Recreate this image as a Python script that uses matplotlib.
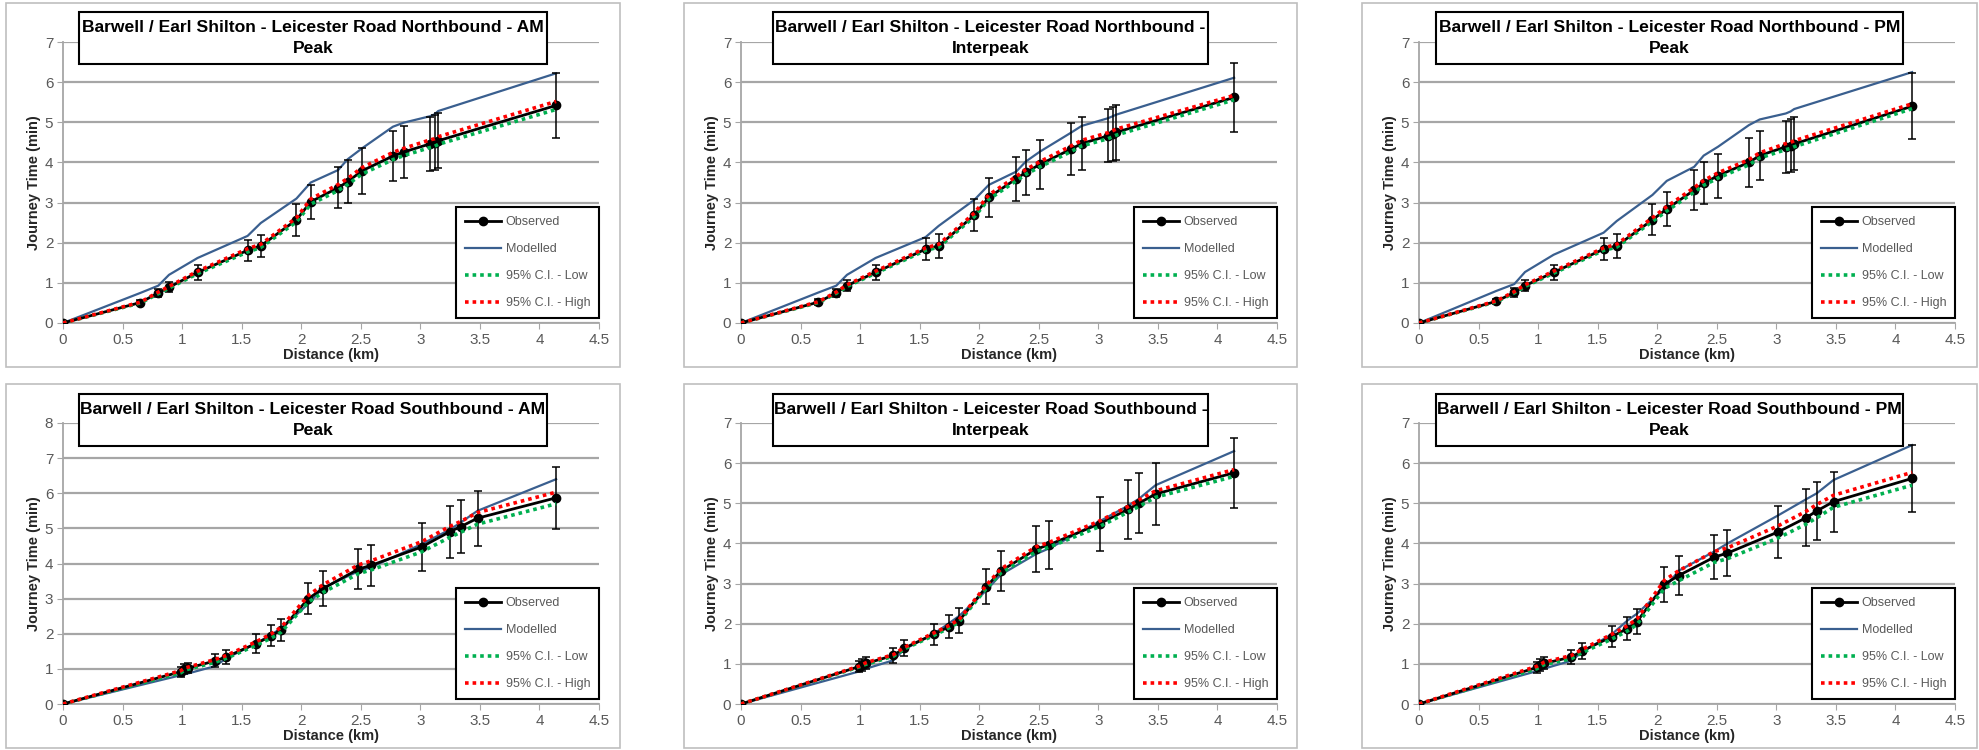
import numpy as np
import matplotlib.pyplot as plt
from matplotlib.patches import Rectangle

plt.rcParams['font.family'] = ['Liberation Sans', 'DejaVu Sans']

# distances of the timing points (km)
x_north = [0, 0.65, 0.80, 0.89, 1.13, 1.55, 1.66, 1.96, 2.08, 2.31, 2.39, 2.51, 2.77, 2.86, 3.08, 3.12, 3.15, 4.14]
x_south = [0, 0.99, 1.02, 1.05, 1.28, 1.37, 1.62, 1.75, 1.83, 2.06, 2.18, 2.48, 2.59, 3.01, 3.25, 3.34, 3.48, 4.14]

# Northbound AM
obs_nam = [0, 0.51, 0.75, 0.89, 1.26, 1.81, 1.92, 2.57, 3.02, 3.37, 3.52, 3.79, 4.16, 4.26, 4.46, 4.49, 4.54, 5.42]
err_nam = [0, 0.06, 0.10, 0.12, 0.19, 0.26, 0.28, 0.40, 0.42, 0.51, 0.53, 0.58, 0.62, 0.64, 0.68, 0.68, 0.68, 0.82]
mod_nam = [0, 0.75, 0.93, 1.20, 1.62, 2.17, 2.49, 3.10, 3.50, 3.81, 4.08, 4.35, 4.89, 4.99, 5.15, 5.20, 5.28, 6.22]
low_nam = [0, 0.50, 0.73, 0.87, 1.23, 1.77, 1.88, 2.52, 2.96, 3.30, 3.45, 3.71, 4.07, 4.17, 4.37, 4.40, 4.45, 5.32]
high_nam = [0, 0.52, 0.77, 0.91, 1.29, 1.85, 1.96, 2.62, 3.09, 3.45, 3.60, 3.87, 4.25, 4.35, 4.56, 4.59, 4.64, 5.52]

# Northbound Interpeak
obs_nip = [0, 0.52, 0.75, 0.93, 1.26, 1.84, 1.92, 2.69, 3.13, 3.59, 3.75, 3.95, 4.33, 4.47, 4.66, 4.71, 4.75, 5.62]
err_nip = [0, 0.07, 0.10, 0.13, 0.19, 0.28, 0.30, 0.39, 0.48, 0.55, 0.56, 0.60, 0.65, 0.67, 0.66, 0.67, 0.68, 0.85]
mod_nip = [0, 0.76, 0.93, 1.20, 1.62, 2.14, 2.42, 3.07, 3.44, 3.77, 4.02, 4.27, 4.74, 4.91, 5.10, 5.15, 5.19, 6.11]
low_nip = [0, 0.51, 0.74, 0.91, 1.24, 1.81, 1.89, 2.65, 3.08, 3.54, 3.70, 3.89, 4.27, 4.41, 4.59, 4.64, 4.68, 5.56]
high_nip = [0, 0.53, 0.77, 0.95, 1.29, 1.87, 1.96, 2.74, 3.19, 3.65, 3.82, 4.02, 4.41, 4.55, 4.74, 4.79, 4.83, 5.67]

# Northbound PM
obs_npm = [0, 0.54, 0.76, 0.93, 1.26, 1.84, 1.92, 2.57, 2.84, 3.31, 3.48, 3.67, 4.00, 4.17, 4.39, 4.42, 4.46, 5.40]
err_npm = [0, 0.07, 0.10, 0.14, 0.19, 0.28, 0.29, 0.39, 0.43, 0.50, 0.52, 0.55, 0.60, 0.62, 0.65, 0.65, 0.66, 0.82]
mod_npm = [0, 0.80, 0.97, 1.27, 1.70, 2.25, 2.54, 3.19, 3.54, 3.89, 4.17, 4.39, 4.93, 5.07, 5.22, 5.27, 5.33, 6.25]
low_npm = [0, 0.53, 0.75, 0.91, 1.24, 1.81, 1.89, 2.53, 2.79, 3.26, 3.43, 3.61, 3.94, 4.11, 4.32, 4.35, 4.39, 5.34]
high_npm = [0, 0.55, 0.78, 0.95, 1.29, 1.87, 1.96, 2.62, 2.90, 3.37, 3.55, 3.74, 4.07, 4.24, 4.47, 4.50, 4.54, 5.46]

# Southbound AM
obs_sam = [0, 0.92, 0.99, 1.02, 1.23, 1.34, 1.72, 1.94, 2.11, 3.00, 3.28, 3.84, 3.95, 4.47, 4.91, 5.05, 5.29, 5.87]
err_sam = [0, 0.14, 0.15, 0.15, 0.18, 0.20, 0.27, 0.30, 0.32, 0.45, 0.50, 0.58, 0.58, 0.68, 0.74, 0.75, 0.78, 0.88]
mod_sam = [0, 0.82, 0.85, 0.87, 1.08, 1.30, 1.72, 1.98, 2.15, 2.85, 3.30, 3.78, 3.90, 4.55, 4.97, 5.17, 5.50, 6.40]
low_sam = [0, 0.89, 0.96, 0.99, 1.19, 1.30, 1.67, 1.88, 2.04, 2.90, 3.17, 3.71, 3.82, 4.33, 4.75, 4.89, 5.12, 5.70]
high_sam = [0, 0.95, 1.02, 1.05, 1.27, 1.38, 1.77, 2.00, 2.18, 3.09, 3.39, 3.96, 4.08, 4.62, 5.06, 5.20, 5.45, 6.03]

# Southbound Interpeak
obs_sip = [0, 0.93, 0.97, 1.01, 1.21, 1.39, 1.74, 1.93, 2.07, 2.92, 3.31, 3.86, 3.97, 4.49, 4.85, 5.00, 5.23, 5.76]
err_sip = [0, 0.14, 0.15, 0.15, 0.18, 0.20, 0.26, 0.29, 0.31, 0.44, 0.50, 0.57, 0.60, 0.67, 0.74, 0.75, 0.78, 0.87]
mod_sip = [0, 0.81, 0.85, 0.88, 1.09, 1.36, 1.75, 2.02, 2.19, 2.83, 3.22, 3.74, 3.88, 4.55, 4.94, 5.11, 5.45, 6.30]
low_sip = [0, 0.92, 0.96, 0.99, 1.19, 1.37, 1.71, 1.90, 2.04, 2.88, 3.26, 3.80, 3.91, 4.42, 4.78, 4.92, 5.15, 5.67]
high_sip = [0, 0.94, 0.98, 1.03, 1.23, 1.41, 1.77, 1.96, 2.10, 2.96, 3.36, 3.92, 4.03, 4.56, 4.92, 5.08, 5.31, 5.84]

# Southbound PM
obs_spm = [0, 0.91, 0.96, 1.01, 1.17, 1.32, 1.68, 1.88, 2.05, 2.98, 3.20, 3.66, 3.76, 4.28, 4.64, 4.81, 5.04, 5.62]
err_spm = [0, 0.14, 0.15, 0.15, 0.18, 0.20, 0.26, 0.29, 0.31, 0.44, 0.48, 0.55, 0.57, 0.64, 0.71, 0.73, 0.75, 0.83]
mod_spm = [0, 0.82, 0.85, 0.88, 1.08, 1.30, 1.74, 2.08, 2.25, 2.88, 3.32, 3.80, 4.00, 4.69, 5.10, 5.25, 5.58, 6.45]
low_spm = [0, 0.88, 0.93, 0.98, 1.13, 1.28, 1.62, 1.82, 1.98, 2.88, 3.07, 3.53, 3.62, 4.13, 4.48, 4.64, 4.90, 5.45]
high_spm = [0, 0.94, 0.99, 1.04, 1.21, 1.36, 1.74, 1.95, 2.12, 3.08, 3.32, 3.80, 3.89, 4.43, 4.80, 4.97, 5.20, 5.77]

titles = [
    "Barwell / Earl Shilton - Leicester Road Northbound - AM\nPeak",
    "Barwell / Earl Shilton - Leicester Road Northbound -\nInterpeak",
    "Barwell / Earl Shilton - Leicester Road Northbound - PM\nPeak",
    "Barwell / Earl Shilton - Leicester Road Southbound - AM\nPeak",
    "Barwell / Earl Shilton - Leicester Road Southbound -\nInterpeak",
    "Barwell / Earl Shilton - Leicester Road Southbound - PM\nPeak",
]
x_ticks = [0, 0.5, 1, 1.5, 2, 2.5, 3, 3.5, 4, 4.5]
x_ticklabels = ['0', '0.5', '1', '1.5', '2', '2.5', '3', '3.5', '4', '4.5']
y_max = [7, 7, 7, 8, 7, 7]

panels = [
    (x_north, obs_nam, err_nam, mod_nam, low_nam, high_nam),
    (x_north, obs_nip, err_nip, mod_nip, low_nip, high_nip),
    (x_north, obs_npm, err_npm, mod_npm, low_npm, high_npm),
    (x_south, obs_sam, err_sam, mod_sam, low_sam, high_sam),
    (x_south, obs_sip, err_sip, mod_sip, low_sip, high_sip),
    (x_south, obs_spm, err_spm, mod_spm, low_spm, high_spm),
]

W, H = 1979, 750
fig = plt.figure(figsize=(W / 100, H / 100), dpi=100)

# layout in pixels
ax_left = [63, 741, 1419]
ax_w = 536
ax_top = [42, 423]
ax_h = 281
border_x = [(6, 620), (684, 1297), (1362, 1977)]
border_y = [(3, 367), (384, 748)]
tbox_x = [(79, 547), (773, 1208), (1436, 1903)]
tbox_y = [(12, 64), (394, 446)]

gray_txt = '#595959'
grid_col = '#A6A6A6'

for i, (x, obs, err, mod, low, high) in enumerate(panels):
    r, c = divmod(i, 3)

    # outer chart border
    bx0, bx1 = border_x[c]
    by0, by1 = border_y[r]
    fig.add_artist(Rectangle((bx0 / W, 1 - by1 / H), (bx1 - bx0) / W, (by1 - by0) / H,
                             transform=fig.transFigure, fill=False, ec='#BFBFBF', lw=1.2))

    ax = fig.add_axes([ax_left[c] / W, 1 - (ax_top[r] + ax_h) / H, ax_w / W, ax_h / H])
    ax.errorbar(x, obs, yerr=err, fmt='none', ecolor='black', elinewidth=1.1,
                capsize=3, capthick=1.1, zorder=3)
    ax.plot(x, obs, color='black', lw=2, marker='o', ms=6, label='Observed', zorder=3)
    ax.plot(x, mod, color='#3A5F8F', lw=1.6, label='Modelled', zorder=2)
    ax.plot(x, low, color='#00B050', lw=2.6, ls=(0, (1, 1.1)), label='95% C.I. - Low', zorder=4)
    ax.plot(x, high, color='#FF0000', lw=2.6, ls=(0, (1, 1.1)), label='95% C.I. - High', zorder=5)

    ax.set_xlim(0, 4.5)
    ax.set_ylim(0, y_max[i])
    ax.set_xticks(x_ticks)
    ax.set_xticklabels(x_ticklabels)
    ax.set_yticks(range(0, y_max[i] + 1))
    ax.yaxis.grid(True, color=grid_col, lw=1.6)
    ax.set_axisbelow(True)
    for s in ['top', 'right']:
        ax.spines[s].set_visible(False)
    for s in ['left', 'bottom']:
        ax.spines[s].set_color(grid_col)
        ax.spines[s].set_linewidth(1.3)
    ax.tick_params(direction='out', length=4, color=grid_col, labelcolor=gray_txt,
                   labelsize=11, pad=3)
    ax.set_xlabel('Distance (km)', fontsize=10.5, fontweight='bold', color='#262626', labelpad=1)
    ax.set_ylabel('Journey Time (min)', fontsize=10.5, fontweight='bold', color='#262626', labelpad=3)

    leg = ax.legend(loc='lower right', bbox_to_anchor=(1.0, 0.018), borderaxespad=0,
                    fontsize=9, handlelength=2.9, handletextpad=0.35, labelspacing=1.2,
                    fancybox=False, framealpha=1, edgecolor='black', borderpad=0.7)
    leg.get_frame().set_linewidth(1.5)
    for t in leg.get_texts():
        t.set_color(gray_txt)

    # boxed chart title
    tx0, tx1 = tbox_x[c]
    ty0, ty1 = tbox_y[r]
    fig.add_artist(Rectangle((tx0 / W, 1 - ty1 / H), (tx1 - tx0) / W, (ty1 - ty0) / H,
                             transform=fig.transFigure, fc='white', ec='black', lw=1.5, zorder=5))
    fig.text((tx0 + tx1) / 2 / W, 1 - (ty0 + ty1) / 2 / H, titles[i], ha='center', va='center',
             fontsize=12.6, fontweight='bold', linespacing=1.45, zorder=6)

fig.savefig('out.png', dpi=100)
